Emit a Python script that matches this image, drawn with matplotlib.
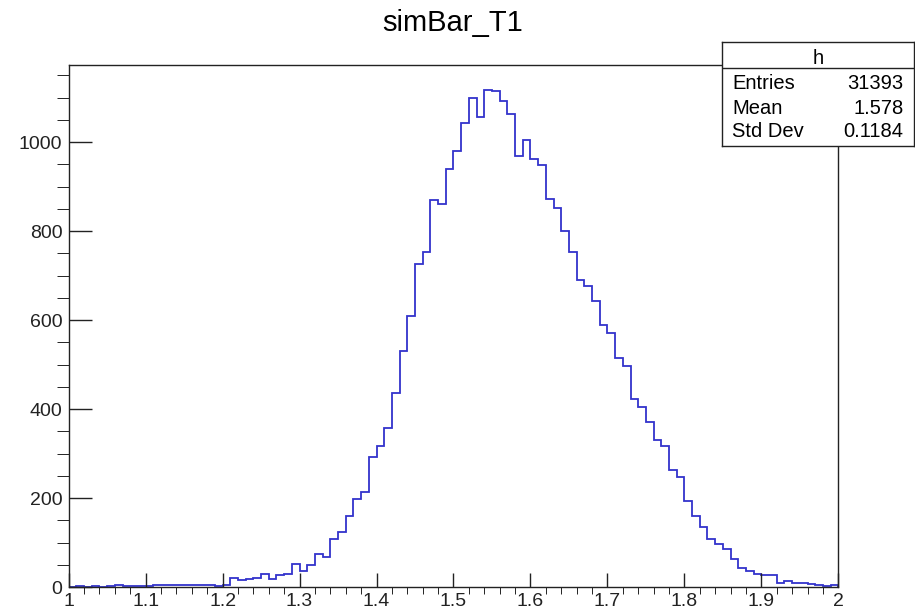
import numpy as np
import matplotlib
matplotlib.use("Agg")
import matplotlib.pyplot as plt
from matplotlib.ticker import MultipleLocator, FormatStrFormatter

plt.rcParams["font.family"] = ["Liberation Sans", "DejaVu Sans"]

# histogram h: 100 bins from 1 to 2
x_lo, x_hi, n_bins = 1.0, 2.0, 100
counts = [
    0, 2, 0, 2, 0, 2, 5, 2, 2, 2,              # 1.00 - 1.09
    2, 5, 5, 5, 5, 5, 5, 5, 5, 3,              # 1.10 - 1.19
    5, 20, 15, 18, 21, 30, 17, 27, 29, 52,     # 1.20 - 1.29
    37, 49, 74, 68, 107, 123, 160, 198, 213, 293,   # 1.30 - 1.39
    316, 358, 437, 530, 610, 726, 753, 870, 861, 939,  # 1.40 - 1.49
    980, 1042, 1100, 1057, 1118, 1115, 1093, 1063, 969, 1004,  # 1.50 - 1.59
    961, 948, 871, 852, 800, 753, 691, 676, 642, 589,  # 1.60 - 1.69
    571, 515, 497, 422, 404, 371, 331, 316, 263, 248,  # 1.70 - 1.79
    194, 160, 135, 108, 96, 85, 63, 42, 37, 30,        # 1.80 - 1.89
    26, 27, 10, 14, 8, 8, 7, 4, 3, 4,                  # 1.90 - 1.99
]
title = "simBar_T1"
stat_name = "h"
stat_labels = ["Entries", "Mean", "Std Dev"]
stat_values = ["31393", "1.578", "0.1184"]

edges = np.linspace(x_lo, x_hi, n_bins + 1)

fig = plt.figure(figsize=(9.15, 6.13), dpi=100)
ax = fig.add_axes([0.075, 0.0424, 0.8412, 0.852])

ax.stairs(counts, edges, color="#3333cc", lw=1.3, baseline=0)

ax.set_xlim(x_lo, x_hi)
ax.set_ylim(0, max(counts) * 1.05)

ax.xaxis.set_major_locator(MultipleLocator(0.1))
ax.xaxis.set_minor_locator(MultipleLocator(0.02))
ax.xaxis.set_major_formatter(FormatStrFormatter("%g"))
ax.yaxis.set_major_locator(MultipleLocator(200))
ax.yaxis.set_minor_locator(MultipleLocator(50))

ax.tick_params(direction="in", labelsize=14, width=1, colors="#222", pad=4.5)
ax.tick_params(axis="x", which="major", length=10)
ax.tick_params(axis="x", which="minor", length=5)
ax.tick_params(axis="y", which="major", length=16.5)
ax.tick_params(axis="y", which="minor", length=9)
for s in ax.spines.values():
    s.set_linewidth(1.0)
    s.set_color("#222")

fig.text(0.495, 0.9494, title, ha="center", va="baseline", fontsize=21)

# stats box (on top of the frame)
sb = fig.add_axes([0.7894, 0.7618, 0.2098, 0.1701], zorder=5)
sb.set_xlim(0, 1)
sb.set_ylim(0, 1)
sb.set_xticks([])
sb.set_yticks([])
for s in sb.spines.values():
    s.set_linewidth(1.0)
    s.set_color("#222")
sb.axhline(0.745, color="#222", lw=1.0)
sb.text(0.5, 0.841, stat_name, ha="center", va="center", fontsize=14.5)
for yy, lab, val in zip([0.601, 0.361, 0.137], stat_labels, stat_values):
    sb.text(0.052, yy, lab, ha="left", va="center", fontsize=14.5)
    sb.text(0.943, yy, val, ha="right", va="center", fontsize=14.5)

fig.savefig("out.png", dpi=100)
